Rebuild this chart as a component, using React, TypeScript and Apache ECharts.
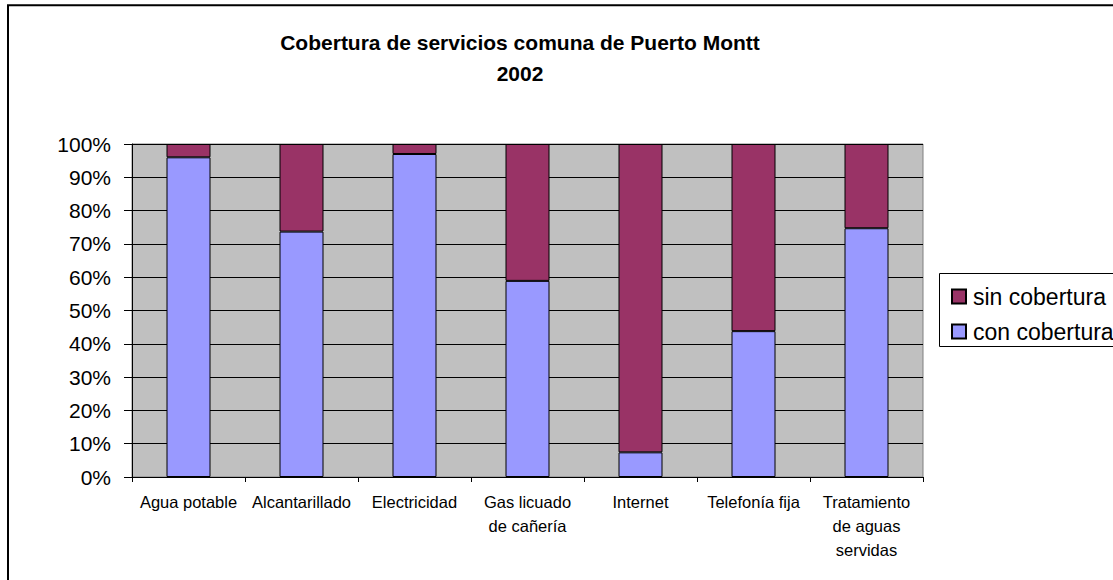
import React, { useEffect, useRef } from "react";
import * as echarts from "echarts";

const categories = [
  "Agua potable",
  "Alcantarillado",
  "Electricidad",
  "Gas licuado\nde cañería",
  "Internet",
  "Telefonía fija",
  "Tratamiento\nde aguas\nservidas",
];
const conCobertura = [96, 73.7, 97, 58.9, 7.4, 43.8, 74.7];
const sinCobertura = [4, 26.3, 3, 41.1, 92.6, 56.2, 25.3];
const legendNames = ["sin cobertura", "con cobertura"];
const titleLines = ["Cobertura de servicios comuna de Puerto Montt", "2002"];

const FONT = '"Liberation Sans", Arial, sans-serif';

export default function App() {
  const ref = useRef<HTMLDivElement>(null);
  useEffect(() => {
    if (!ref.current) return;
    const chart = echarts.init(ref.current, null, { renderer: "svg" });
    chart.setOption({
      animation: false,
      backgroundColor: "#ffffff",
      textStyle: { fontFamily: FONT },
      graphic: [
        {
          type: "rect",
          shape: { x: 8, y: 5.3, width: 1300, height: 800 },
          style: { fill: "none", stroke: "#000", lineWidth: 2 },
          silent: true,
        },
        {
          type: "rect",
          shape: { x: 939.5, y: 273.5, width: 300, height: 73 },
          style: { fill: "#fff", stroke: "#000", lineWidth: 1 },
          silent: true,
          z: -1,
        },
        {
          type: "text",
          x: 520,
          y: 27,
          style: {
            text: titleLines.join("\n"),
            font: `bold 21px ${FONT}`,
            fill: "#000",
            align: "center",
            verticalAlign: "top",
            lineHeight: 31,
          },
        },
      ],
      legend: {
        data: legendNames,
        orient: "vertical",
        left: 946,
        top: 280,
        itemWidth: 14,
        itemHeight: 14,
        itemGap: 12,
        icon: "rect",
        textStyle: { fontSize: 23, color: "#000", fontFamily: FONT, padding: [0, 0, 0, 2] },
      },
      grid: {
        left: 132,
        top: 144,
        right: 190,
        bottom: 103,
        show: true,
        backgroundColor: "#C0C0C0",
        borderColor: "#808080",
        borderWidth: 1,
      },
      xAxis: {
        type: "category",
        data: categories,
        axisLine: { lineStyle: { color: "#000", width: 1 } },
        axisTick: { show: true, length: 5, alignWithLabel: false, lineStyle: { color: "#000" } },
        axisLabel: {
          interval: 0,
          fontSize: 16.5,
          lineHeight: 24,
          color: "#000",
          margin: 13,
          fontFamily: FONT,
        },
        splitLine: { show: false },
      },
      yAxis: {
        type: "value",
        min: 0,
        max: 100,
        interval: 10,
        axisLine: { show: true, lineStyle: { color: "#000", width: 1 } },
        axisTick: { show: true, length: 8, lineStyle: { color: "#000" } },
        axisLabel: {
          formatter: "{value}%",
          fontSize: 21,
          color: "#000",
          margin: 21,
          fontFamily: FONT,
        },
        splitLine: { show: true, lineStyle: { color: "#000", width: 1 } },
      },
      series: [
        {
          name: "con cobertura",
          type: "bar",
          stack: "total",
          data: conCobertura,
          barWidth: 44,
          itemStyle: { color: "#9999FF", borderColor: "#000", borderWidth: 1 },
        },
        {
          name: "sin cobertura",
          type: "bar",
          stack: "total",
          data: sinCobertura,
          barWidth: 44,
          itemStyle: { color: "#993366", borderColor: "#000", borderWidth: 1 },
        },
      ],
    });
    return () => chart.dispose();
  }, []);
  return (
    <div
      ref={ref}
      style={{ position: "fixed", left: 0, top: 0, width: 1113, height: 580 }}
    />
  );
}
